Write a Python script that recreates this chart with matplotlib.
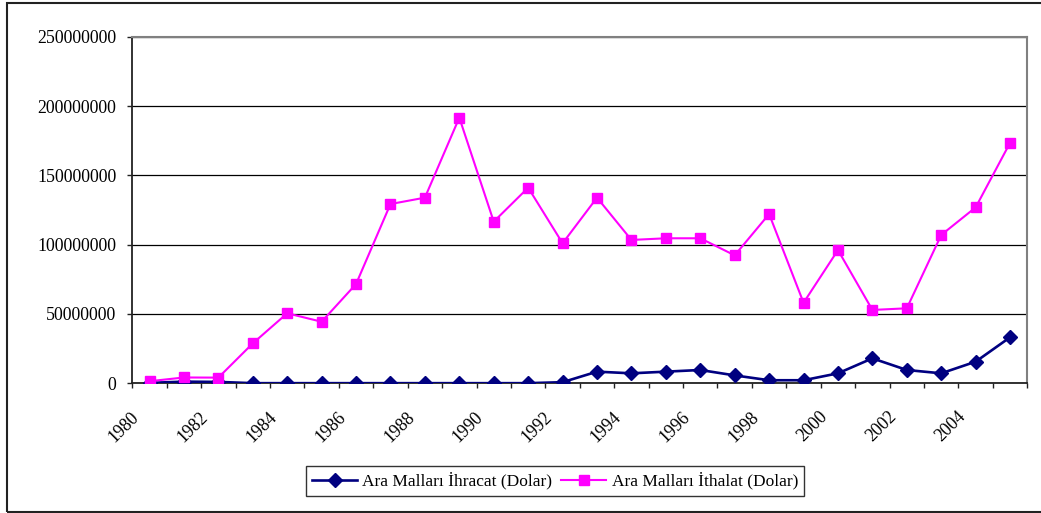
import matplotlib
matplotlib.use("Agg")
import matplotlib.pyplot as plt
import matplotlib.patches as mpatches
from matplotlib.ticker import FuncFormatter, MultipleLocator
from matplotlib.transforms import ScaledTranslation

plt.rcParams['font.family'] = ['Liberation Serif', 'DejaVu Serif']

years = list(range(1980, 2006))
tick_years = list(range(1980, 2005, 2))
ihracat = [0.3e6, 1.2e6, 1.0e6, 0.1e6, 0.1e6, 0.1e6, 0.1e6, 0.1e6, 0.1e6, 0.1e6, 0.1e6, 0.1e6,
           0.8e6, 8.4e6, 7.2e6, 8.4e6, 9.6e6, 5.7e6, 2.2e6, 2.2e6, 7.2e6, 18.0e6, 9.6e6, 7.2e6,
           15.6e6, 33.2e6]
ithalat = [1.5e6, 4.2e6, 4.1e6, 28.8e6, 50.5e6, 44.4e6, 71.6e6, 129.3e6, 133.9e6, 191.6e6,
           116.6e6, 141.1e6, 101.0e6, 133.9e6, 103.4e6, 104.6e6, 104.6e6, 92.3e6, 122.1e6,
           58.1e6, 96.1e6, 52.9e6, 54.1e6, 107.0e6, 126.9e6, 173.5e6]
label_ihr = "Ara Malları İhracat (Dolar)"
label_ith = "Ara Malları İthalat (Dolar)"

W, H = 1041, 513
fig = plt.figure(figsize=(W / 100, H / 100), dpi=100)
ax = fig.add_axes([132.3 / W, 1 - 383.3 / H, (1027.3 - 132.3) / W, (383.3 - 36.7) / H])

# chart border
fig.patches.append(mpatches.Rectangle((7 / W, 1 - 512 / H), 1.2, (512 - 3) / H,
                                      transform=fig.transFigure, fill=False,
                                      edgecolor='#222222', linewidth=1.5, clip_on=False))

x = list(range(len(years)))
ax.plot(x, ihracat, color='#000080', lw=1.9, marker='D', markersize=7,
        markerfacecolor='#000080', markeredgecolor='#000080', label=label_ihr, zorder=3)
ax.plot(x, ithalat, color='#FF00FF', lw=1.5, marker='s', markersize=7.5,
        markerfacecolor='#FF00FF', markeredgecolor='#FF00FF', label=label_ith, zorder=4)

ax.set_xlim(-0.5, len(years) - 0.5)
ax.set_ylim(0, 250e6)
ax.yaxis.set_major_locator(MultipleLocator(50e6))
ax.yaxis.set_major_formatter(FuncFormatter(lambda v, p: f"{int(round(v))}"))
ax.grid(axis='y', color='black', lw=0.9)
ax.set_axisbelow(True)

ticks = [years.index(y) for y in tick_years]
ax.set_xticks(ticks)
ax.set_xticklabels([str(y) for y in tick_years], rotation=45, ha='right', va='top')
ax.set_xticks([i - 0.5 for i in range(len(years) + 1)], minor=True)
ax.tick_params(axis='x', which='major', length=0, pad=18, labelsize=12.8)
ax.tick_params(axis='x', which='minor', length=3.5, direction='out', width=1, color='#222222')
ax.tick_params(axis='y', length=3.5, direction='out', width=1, pad=8, labelsize=12.8, color='#222222')

shift = ScaledTranslation(-7 / 100, 0, fig.dpi_scale_trans)
for lbl in ax.get_xticklabels():
    lbl.set_transform(lbl.get_transform() + shift)

for s in ['top', 'right']:
    ax.spines[s].set_color('#808080')
    ax.spines[s].set_linewidth(1.5)
for s in ['left', 'bottom']:
    ax.spines[s].set_color('#222222')
    ax.spines[s].set_linewidth(1.3)

leg = fig.legend(loc='center', bbox_to_anchor=(555 / W, 1 - 481 / H), ncol=2,
                 frameon=True, fancybox=False, fontsize=12.5, handlelength=2.6,
                 columnspacing=0.5, handletextpad=0.3, borderpad=0.35)
leg.get_frame().set_edgecolor('black')
leg.get_frame().set_linewidth(1.0)

fig.savefig("out.png", dpi=100)
